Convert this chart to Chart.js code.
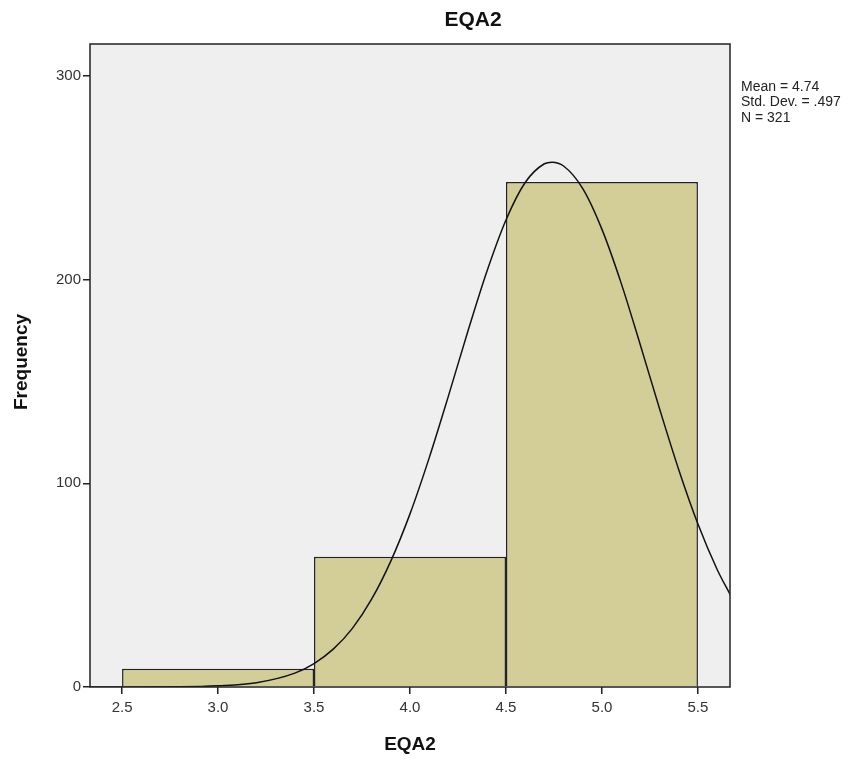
<!DOCTYPE html>
<html>
<head>
<meta charset="utf-8">
<script src="https://cdn.jsdelivr.net/npm/chart.js@4"></script>
<style>
  html, body { margin: 0; padding: 0; background: #fff; }
  #wrap { width: 867px; height: 761px; position: relative; }
</style>
</head>
<body>
<div id="wrap"><canvas id="hist" width="867" height="761"></canvas></div>
<script>
// histogram bins (centres) and counts
const binCentres = [3.0, 4.0, 5.0];
const binCounts = [9, 64, 248];
const binWidth = 1.0;

// fitted normal curve
const curveX = [2.33, 2.5, 2.8, 3.0, 3.2, 3.4, 3.5, 3.6, 3.7, 3.8, 3.9, 4.0, 4.1, 4.2, 4.3, 4.4, 4.5, 4.6, 4.7, 4.74, 4.8, 4.9, 5.0, 5.1, 5.2, 5.3, 5.4, 5.5, 5.6, 5.67];
const curveY = [0, 0, 0.1, 0.6, 2.1, 6.8, 11.5, 18.6, 28.8, 43.1, 61.8, 85.0, 112.5, 142.8, 174.2, 203.9, 229.3, 247.7, 256.9, 257.7, 255.8, 244.7, 224.7, 198.3, 167.9, 136.6, 106.7, 80.0, 57.7, 45.0];

const xTicks = [2.5, 3.0, 3.5, 4.0, 4.5, 5.0, 5.5];
const yTicks = [0, 100, 200, 300];
const statLines = ['Mean = 4.74', 'Std. Dev. = .497', 'N = 321'];
const titleText = 'EQA2';
const xTitle = 'EQA2';
const yTitle = 'Frequency';

const FONT = '"Liberation Sans", Arial, sans-serif';
const tickStep = xTicks[1] - xTicks[0];

const frame = {
  id: 'frame',
  beforeDatasetsDraw(chart) {
    const {ctx, chartArea: a} = chart;
    ctx.save();
    ctx.fillStyle = '#efefef';
    ctx.fillRect(a.left, a.top, a.right - a.left, a.bottom - a.top);
    ctx.restore();
  },
  afterDraw(chart) {
    const {ctx, chartArea: a} = chart;
    ctx.save();
    ctx.strokeStyle = '#222';
    ctx.lineWidth = 1.5;
    ctx.strokeRect(a.left, a.top, a.right - a.left, a.bottom - a.top);

    ctx.fillStyle = '#111';
    ctx.textBaseline = 'middle';
    ctx.textAlign = 'center';
    ctx.font = 'bold 21px ' + FONT;
    ctx.fillText(titleText, 473, 20);
    ctx.font = 'bold 19px ' + FONT;
    ctx.fillText(xTitle, (a.left + a.right) / 2, 745);
    ctx.save();
    ctx.translate(22, 362);
    ctx.rotate(-Math.PI / 2);
    ctx.fillText(yTitle, 0, 0);
    ctx.restore();

    ctx.textAlign = 'left';
    ctx.font = '14px ' + FONT;
    ctx.fillStyle = '#222';
    statLines.forEach((s, i) => ctx.fillText(s, 741, 87 + i * 15.5));
    ctx.restore();
  }
};

new Chart(document.getElementById('hist'), {
  type: 'bar',
  data: {
    datasets: [
      {
        type: 'line',
        data: curveX.map((x, i) => ({x: x, y: curveY[i]})),
        borderColor: '#111',
        borderWidth: 1.5,
        pointRadius: 0,
        tension: 0.4,
        cubicInterpolationMode: 'monotone',
        fill: false,
        order: 0
      },
      {
        data: binCentres.map((x, i) => ({x: x, y: binCounts[i]})),
        backgroundColor: '#d3cd98',
        borderColor: '#222',
        borderWidth: 1.5,
        // bar ruler uses the tick spacing, so stretch to a full bin
        barPercentage: binWidth / tickStep,
        categoryPercentage: 1,
        order: 1
      }
    ]
  },
  options: {
    responsive: false,
    animation: false,
    layout: { padding: { left: 0, right: 137, top: 44, bottom: 0 } },
    plugins: { legend: { display: false }, tooltip: { enabled: false } },
    scales: {
      x: {
        type: 'linear',
        offset: false,
        min: 2.333,
        max: 5.667,
        afterBuildTicks: s => { s.ticks = xTicks.map(v => ({value: v})); },
        afterFit: s => { s.height = 74; },
        grid: { offset: false, drawOnChartArea: false, tickLength: 7, color: '#222', lineWidth: 1.5 },
        border: { display: false },
        ticks: { color: '#333', font: { family: FONT, size: 15 }, padding: 5,
                 callback: v => v.toFixed(1) }
      },
      y: {
        min: 0,
        max: 315.7,
        afterBuildTicks: s => { s.ticks = yTicks.map(v => ({value: v})); },
        afterFit: s => { s.width = 90; },
        grid: { drawOnChartArea: false, tickLength: 7, color: '#222', lineWidth: 1.5 },
        border: { display: false },
        ticks: { color: '#333', font: { family: FONT, size: 15 }, padding: 2 }
      }
    }
  },
  plugins: [frame]
});
</script>
</body>
</html>
